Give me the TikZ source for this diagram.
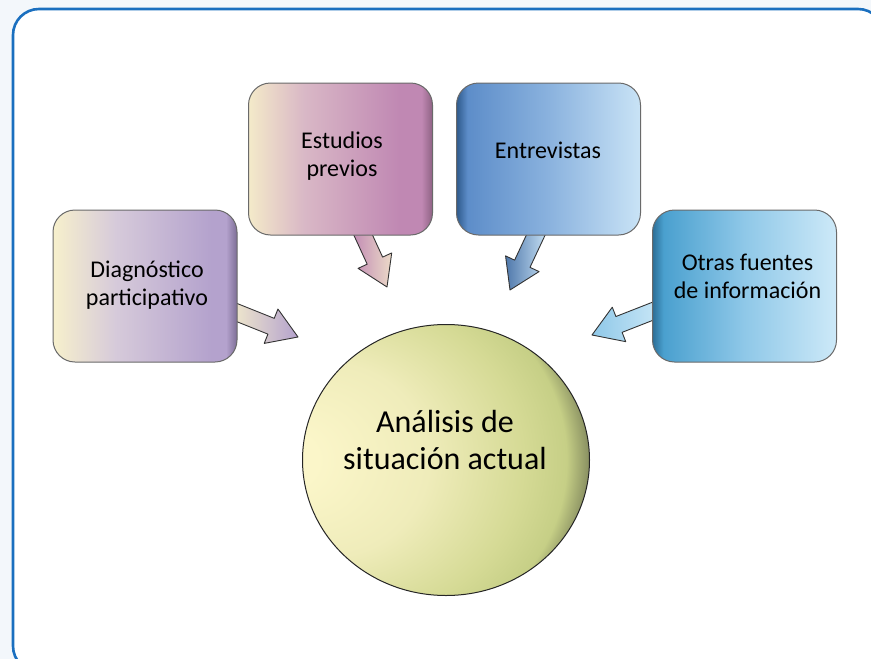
\documentclass[tikz,border=0pt]{standalone}
\usepackage{fontspec}
\setmainfont{Carlito}
\usetikzlibrary{calc,shapes.geometric}
\definecolor{pagebg}{HTML}{F3F7FB}
\definecolor{framecol}{HTML}{1A6FBF}
\definecolor{boxline}{HTML}{6A6A6A}
\definecolor{dgA}{HTML}{F7F0CC}\definecolor{dgB}{HTML}{D6CADA}\definecolor{dgC}{HTML}{B4A2CD}\definecolor{dgD}{HTML}{7D6E96}
\definecolor{esA}{HTML}{F4EAC9}\definecolor{esB}{HTML}{D9B8C6}\definecolor{esC}{HTML}{C088B3}\definecolor{esD}{HTML}{8E6283}
\definecolor{enA}{HTML}{2E5A8C}\definecolor{enB}{HTML}{5D8DC9}\definecolor{enC}{HTML}{8AB2DE}\definecolor{enD}{HTML}{C9E3F6}
\definecolor{otA}{HTML}{2C6E96}\definecolor{otB}{HTML}{4AA0CF}\definecolor{otC}{HTML}{8FC8E8}\definecolor{otD}{HTML}{CDE9F8}
\definecolor{ciA}{HTML}{FBF6C9}\definecolor{ciB}{HTML}{EFECBA}\definecolor{ciC}{HTML}{D5DA95}\definecolor{ciD}{HTML}{C6CF86}\definecolor{ciE}{HTML}{747A55}
\pgfdeclarehorizontalshading{diagsh}{100bp}{color(0bp)=(dgA); color(25bp)=(dgA); color(42bp)=(dgB); color(68bp)=(dgC); color(72bp)=(dgC); color(75bp)=(dgD); color(100bp)=(dgD)}
\pgfdeclarehorizontalshading{estsh}{100bp}{color(0bp)=(esA); color(25bp)=(esA); color(40bp)=(esB); color(66bp)=(esC); color(72bp)=(esC); color(75bp)=(esD); color(100bp)=(esD)}
\pgfdeclarehorizontalshading{entsh}{100bp}{color(0bp)=(enA); color(25bp)=(enA); color(28bp)=(enB); color(50bp)=(enC); color(75bp)=(enD); color(100bp)=(enD)}
\pgfdeclarehorizontalshading{otrsh}{100bp}{color(0bp)=(otA); color(25bp)=(otA); color(28bp)=(otB); color(50bp)=(otC); color(75bp)=(otD); color(100bp)=(otD)}
\pgfdeclareradialshading{circsh}{\pgfpoint{-30bp}{0bp}}{color(0bp)=(ciA); color(5bp)=(ciA); color(18bp)=(ciB); color(29bp)=(ciC); color(34bp)=(ciD); color(37.5bp)=(ciE); color(60bp)=(ciE)}
\newcommand\blockarrow[3]{%
  \coordinate (#1-hb) at ($(#2)!29pt!(#1)$);
  \draw[#3] ($(#1)!8.5pt!90:(#2)$) -- ($(#1-hb)!8.5pt!90:(#2)$) -- ($(#1-hb)!18.5pt!90:(#2)$)
    -- (#2) -- ($(#1-hb)!18.5pt!-90:(#2)$) -- ($(#1-hb)!8.5pt!-90:(#2)$) -- ($(#1)!8.5pt!-90:(#2)$) -- cycle;}
\tikzset{
  infobox/.style={draw=boxline, line width=1pt, rounded corners=22pt, minimum width=184pt, minimum height=152pt, inner sep=0pt},
  boxtext/.style={font=\fontsize{24}{28}\selectfont, align=center, inner sep=0pt, text=black},
  barrow/.style={draw=black!80, line width=0.9pt, line join=round},
}
\begin{document}
\begin{tikzpicture}[x=1pt,y=-1pt]
\useasboundingbox (0,0) rectangle (871,659);
\fill[pagebg] (0,0) rectangle (871,659);
\draw[framecol, line width=2.6pt, fill=white, rounded corners=26pt] (13,9) rectangle (884,672);

% connectors (drawn beneath the boxes)
\coordinate (dA) at (228,309); \coordinate (dB) at (298,337);
\coordinate (eA) at (359,226); \coordinate (eB) at (387,287);
\coordinate (nA) at (540,226); \coordinate (nB) at (510,290);
\coordinate (oA) at (661,308); \coordinate (oB) at (592,335);
\blockarrow{dA}{dB}{barrow, left color=dgA, right color=dgC}
\blockarrow{eA}{eB}{barrow, left color=esC, right color=esA!70!esB}
\blockarrow{nA}{nB}{barrow, left color=enB!85!black, right color=enD}
\blockarrow{oA}{oB}{barrow, left color=otC, right color=otD}

% boxes
\node[infobox, shading=diagsh] (diag) at (145,286) {};
\node[infobox, shading=estsh] (est) at (340.5,159) {};
\node[infobox, shading=entsh] (ent) at (548.5,159) {};
\node[infobox, shading=otrsh] (otr) at (744.5,286) {};

\node[boxtext] (diagt) at (147,285) {Diagnóstico\\participativo};
\node[boxtext] (estt) at (342,156) {Estudios\\previos};
\node[boxtext] (entt) at (548,150) {Entrevistas};
\node[boxtext] (otrt) at (747.5,276) {Otras fuentes\\de información};

% centre
\node[ellipse, draw=black!85, line width=1pt, shading=circsh, minimum width=287pt, minimum height=271pt, inner sep=0pt] (ana) at (446,460) {};
\node[font=\fontsize{32}{37}\selectfont, align=center, inner sep=0pt] (anat) at (445,440) {Análisis de\\situación actual};
\end{tikzpicture}
\end{document}
